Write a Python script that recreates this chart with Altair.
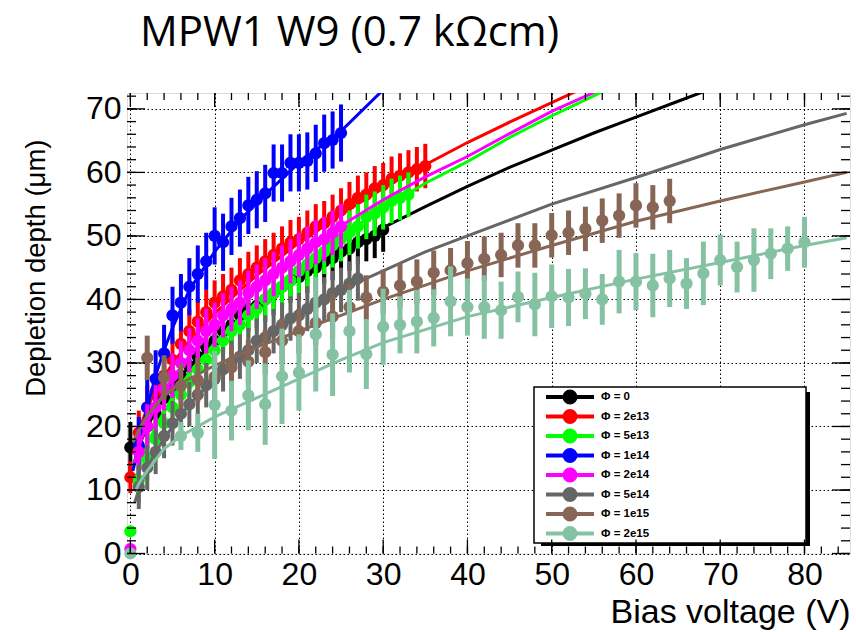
import altair as alt
import pandas as pd

series_names = ["Φ = 0", "Φ = 2e13", "Φ = 5e13", "Φ = 1e14", "Φ = 2e14", "Φ = 5e14", "Φ = 1e15", "Φ = 2e15"]
series_colors = ["#000000", "#ff0000", "#00ff00", "#0000ff", "#ff00ff", "#666666", "#876656", "#85c2a3"]

# ---- measured points: bias voltage (V), depletion depth (um), error (um)
v_phi0 = [0, 1, 2, 3, 4, 5, 6, 7, 8, 9, 10, 11, 12, 13, 14, 15, 16, 17, 18, 19, 20, 21, 22, 23, 24, 25, 26, 27, 28, 29, 30]
d_phi0 = [16.7, 16.5, 20, 22, 24.5, 26, 28, 29.5, 31, 32.5, 33.5, 35, 36, 37.5, 38.5, 39, 40, 41, 42, 43, 43.5,
          44.5, 45, 46, 46.5, 47.5, 48, 49, 49.5, 50, 51]
e_phi0 = [4.0] + [3.5] * 30

v_2e13 = [0, 1, 2, 3, 4, 5, 6, 7, 8, 9, 10, 11, 12, 13, 14, 15, 16, 17, 18, 19, 20, 21, 22, 23, 24, 25, 26, 27, 28,
          29, 30, 31, 32, 33, 34, 35]
d_2e13 = [12, 19, 23, 25.5, 28, 30.5, 33, 35, 36.5, 38, 39.5, 40.5, 41.5, 43, 44, 45, 46, 47, 48, 49,
          49.5, 50.5, 51.5, 52, 53, 54, 55, 56, 56.5, 57.5, 58, 59, 59.5, 60, 60.5, 61]
e_2e13 = [2.5] + [3.5] * 35

v_5e13 = [0, 1, 2, 3, 4, 5, 6, 7, 8, 9, 10, 11, 12, 13, 14, 15, 16, 17, 18, 19, 20, 21, 22, 23, 24, 25, 26, 27, 28,
          29, 30, 31, 32, 33]
d_5e13 = [3.5, 11.5, 15, 18, 20.5, 23, 25, 27, 29, 30.5, 32, 33.5, 35, 36, 37.5, 38.5, 40, 41, 42, 43,
          44.5, 45.5, 46.5, 47.5, 48.5, 49.5, 50.5, 51.5, 53, 53.5, 54.5, 55.5, 56, 56.5]
e_5e13 = [0] + [3.5] * 33

v_1e14 = [1, 2, 3, 4, 5, 6, 7, 8, 9, 10, 11, 12, 13, 14, 15, 16, 17, 18, 19, 20, 21, 22, 23, 24, 25]
d_1e14 = [17, 23, 27.5, 31.5, 37.5, 39.5, 42, 44, 46, 50, 49, 51.5, 52.8, 54.8, 55.7, 56.7, 59.9, 59.9, 61.5, 61.5,
          61.8, 63, 64.6, 65.1, 66.2]
e_1e14 = [4.5] * 25

v_2e14 = [0, 1, 2, 3, 4, 5, 6, 7, 8, 9, 10, 11, 12, 13, 14, 15, 16, 17, 18, 19, 20, 21, 22, 23, 24, 25]
d_2e14 = [0.7, 16, 20, 23, 26, 28, 30, 32, 33.5, 35, 36, 37.5, 38.5, 39.5, 41, 42, 43, 44, 45, 46, 47, 48,
          49, 49.5, 50.5, 51.5]
e_2e14 = [0] + [3.5] * 25

v_5e14 = [1, 2, 3, 4, 5, 6, 7, 8, 9, 10, 11, 12, 13, 14, 15, 16, 17, 18, 19, 20, 21, 22, 23, 24, 25, 26, 27]
d_5e14 = [10.5, 13.5, 16, 18.5, 20.5, 22, 23.5, 25, 26.5, 27.5, 29, 30, 31, 32, 33.5, 34, 35, 36, 37, 37.5, 38.5,
          39.5, 40, 41, 41.5, 42.5, 43.3]
e_5e14 = [3.5] * 27

v_1e15 = [2, 4, 6, 8, 10, 12, 14, 16, 18, 20, 22, 24, 26, 28, 30, 32, 34, 36, 38, 40, 42, 44, 46, 48, 50, 52, 54, 56,
          58, 60, 62, 64]
d_1e15 = [30.8, 27.7, 26.4, 27.3, 27.8, 29.3, 30.2, 31.7, 33.5, 35.0, 36.3, 37.3, 38.8, 40.3, 41.2, 42.2, 42.8, 44.2,
          44.6, 45.7, 46.4, 47.0, 48.5, 48.5, 50.1, 50.5, 51.1, 52.4, 53.2, 54.8, 54.5, 55.5]
e_1e15 = [3.5] * 32

v_2e15 = [0, 6, 8, 10, 12, 14, 16, 18, 20, 22, 24, 26, 28, 30, 32, 34, 36, 38, 40, 42, 44, 46, 48, 50, 52, 54, 56, 58,
          60, 62, 64, 66, 68, 70, 72, 74, 76, 78, 80]
d_2e15 = [0, 18.5, 19.0, 23.4, 22.5, 24.9, 23.5, 27.9, 28.5, 34.5, 31.3, 35.0, 31.4, 35.7, 36.0, 36.5, 37.1, 39.7,
          38.8, 38.8, 38.3, 40.4, 39.2, 40.5, 40.3, 40.9, 40.0, 42.8, 42.8, 42.2, 43.3, 42.5, 44.1, 46.2, 45.1, 46.2,
          47.2, 48.0, 49.0]
e_2e15 = [0, 2.2, 3.0, 8.5, 4.7, 5.5, 6.4, 7.5, 6.0, 9.0, 6.5, 6.5, 5.5, 6.0, 4.5, 5.0, 4.5, 5.5, 4.5, 5.0, 4.5, 4.0,
          5.0, 5.0, 4.5, 4.0, 4.0, 5.0, 4.5, 5.0, 4.5, 4.0, 5.0, 4.0, 4.0, 5.0, 4.0, 3.5, 4.0]

# ---- fitted curves (V, depth)
fv_phi0 = [0.5, 1, 2, 3, 5, 7, 10, 15, 20, 25, 30, 35, 40, 45, 50, 55, 60, 65, 68.6]
fd_phi0 = [14.5, 16.8, 20, 22.4, 26.3, 29.5, 33.4, 38.9, 43.5, 47.6, 51.3, 54.6, 57.8, 60.8, 63.5, 66.2, 68.7, 71.2, 73]
fv_2e13 = [0.3, 1, 2, 3, 5, 7, 10, 15, 20, 25, 30, 35, 40, 45, 50, 53.3]
fd_2e13 = [15.6, 19.4, 22.9, 25.6, 29.9, 33.4, 37.8, 43.8, 48.9, 53.4, 57.5, 61.2, 64.7, 67.9, 71.0, 73]
fv_5e13 = [0.5, 1, 2, 3, 5, 7, 10, 15, 20, 25, 30, 35, 40, 45, 50, 56.5]
fd_5e13 = [10.6, 13.3, 17.1, 20, 24.6, 28.4, 33.1, 39.6, 45.1, 49.9, 54.3, 58.3, 61.7, 65.5, 68.9, 73]
fv_1e14 = [0.3, 1, 2, 3, 4, 5, 7, 10, 13, 16, 20, 25, 30]
fd_1e14 = [13, 17, 23, 28, 32, 35.5, 41.5, 47.5, 52.5, 56.5, 61.5, 66.5, 73]
fv_2e14 = [0.5, 1, 2, 3, 5, 7, 10, 15, 20, 25, 30, 35, 40, 45, 50, 55.7]
fd_2e14 = [14.3, 16.8, 20.4, 23.2, 27.6, 31.1, 35.6, 41.8, 47, 51.6, 55.7, 59.3, 62.5, 66.1, 69.6, 73]
fv_5e14 = [0.5, 1, 2, 3, 5, 7, 10, 15, 20, 25, 30, 35, 40, 50, 60, 70, 80, 85]
fd_5e14 = [8, 10, 13.5, 16, 20, 23.5, 27.5, 33, 37.5, 41.5, 44.5, 47.5, 50, 55, 59.2, 63.6, 67.5, 69.3]
fv_1e15 = [0.3, 1, 2, 4, 6, 10, 15, 20, 25, 30, 40, 50, 60, 70, 80, 85]
fd_1e15 = [17.5, 19.5, 21.8, 24.8, 26.8, 29.6, 32.5, 35, 37.5, 40, 44.5, 48.5, 52.3, 55.5, 58.5, 60]
fv_2e15 = [0.6, 1, 2, 4, 6, 10, 15, 20, 25, 30, 40, 50, 60, 70, 80, 85]
fd_2e15 = [9.8, 11, 13, 16.5, 18.5, 21.5, 24.5, 27.5, 30.5, 33.2, 37.3, 40.3, 43.2, 45.8, 48.5, 49.7]

x_labels = [0, 10, 20, 30, 40, 50, 60, 70, 80]
y_labels = [0, 10, 20, 30, 40, 50, 60, 70]
x_minor = list(range(0, 85, 2))
y_minor = list(range(0, 73, 2))

points = [(v_phi0, d_phi0, e_phi0), (v_2e13, d_2e13, e_2e13), (v_5e13, d_5e13, e_5e13), (v_1e14, d_1e14, e_1e14),
          (v_2e14, d_2e14, e_2e14), (v_5e14, d_5e14, e_5e14), (v_1e15, d_1e15, e_1e15), (v_2e15, d_2e15, e_2e15)]
fits = [(fv_phi0, fd_phi0), (fv_2e13, fd_2e13), (fv_5e13, fd_5e13), (fv_1e14, fd_1e14), (fv_2e14, fd_2e14),
        (fv_5e14, fd_5e14), (fv_1e15, fd_1e15), (fv_2e15, fd_2e15)]

pt_rows, fit_rows = [], []
for k, (vs, ds, es) in enumerate(points):
    for v, d, e in zip(vs, ds, es):
        pt_rows.append({"k": k, "series": series_names[k], "V": v, "D": d, "lo": d - e, "hi": d + e})
for k, (vs, ds) in enumerate(fits):
    for v, d in zip(vs, ds):
        fit_rows.append({"k": k, "series": series_names[k], "V": v, "D": d})
pts_df = pd.DataFrame(pt_rows)
fit_df = pd.DataFrame(fit_rows)

W, H = 723, 460.5
FONT = "Liberation Sans"
xscale = alt.Scale(domain=[-0.4, 85.4], nice=False, zero=False)
yscale = alt.Scale(domain=[0, 72.5], nice=False, zero=False)

xax = alt.Axis(title="Bias voltage (V)", values=x_labels, format="d", grid=True, gridColor="black",
               gridDash=[1.5, 2.5], gridWidth=1, gridOpacity=1, domain=False, ticks=False,
               labelFont=FONT, labelFontSize=32, labelColor="black", labelPadding=6, labelFlush=False,
               labelOverlap=False, titleFont=FONT, titleFontSize=34, titleFontWeight="normal",
               titleColor="black", titleAlign="right", titleX=W, titleY=69, titleBaseline="alphabetic")
yax = alt.Axis(title="Depletion depth (μm)", values=y_labels, format="d", grid=True, gridColor="black",
               gridDash=[1.5, 2.5], gridWidth=1, gridOpacity=1, domain=False, ticks=False,
               labelFont=FONT, labelFontSize=32, labelColor="black", labelPadding=6, labelFlush=False,
               labelOverlap=False, titleFont=FONT, titleFontSize=27.5, titleFontWeight="normal",
               titleColor="black", titleAngle=270, titleAlign="right", titleX=-83, titleY=46,
               titleBaseline="alphabetic")

X = lambda f: alt.X(f, type="quantitative", scale=xscale, axis=xax)
Y = lambda f: alt.Y(f, type="quantitative", scale=yscale, axis=yax)

# legend symbol: a horizontal line with a filled dot (concentric stroked rings)
circ = lambda r: f"M{r},0A{r},{r} 0 1,1 {-r},0A{r},{r} 0 1,1 {r},0"
legend_path = "M-3,0L3,0" + circ(0.6875) + circ(0.3125) + circ(0.125)

legend = alt.Legend(title=None, orient="none", legendX=407, legendY=294, padding=2, symbolType=legend_path,
                    symbolSize=256, symbolStrokeWidth=4, symbolOffset=24, labelOffset=21, rowPadding=3.5,
                    clipHeight=16, labelFont=FONT, labelFontSize=11.5, labelFontWeight="bold",
                    labelColor="black")
color_scale = alt.Scale(domain=series_names, range=series_colors)

layers = []
base_pts = alt.Chart(pts_df)
base_fit = alt.Chart(fit_df)
for k in range(8):
    col = series_colors[k]
    big = k >= 6
    layers.append(base_pts.transform_filter(alt.datum.k == k).mark_rule(color=col, strokeWidth=5 if big else 4)
                  .encode(x=X("V"), y=Y("lo"), y2="hi"))
    layers.append(base_pts.transform_filter(alt.datum.k == k)
                  .mark_point(filled=True, size=150, opacity=1, color=col, strokeWidth=0)
                  .encode(x=X("V"), y=Y("D")))
    layers.append(base_fit.transform_filter(alt.datum.k == k).mark_line(strokeWidth=3, clip=True)
                  .encode(x=X("V"), y=Y("D"),
                          color=alt.Color("series:N", scale=color_scale,
                                          legend=legend if k == 0 else None)))

# legend frame with shadow
box_df = pd.DataFrame({"a": [0]})
layers.append(alt.Chart(box_df).mark_rect(color="black").encode(
    x=alt.value(414), x2=alt.value(683), y=alt.value(299), y2=alt.value(453)))
layers.append(alt.Chart(box_df).mark_rect(fill="white", stroke="black", strokeWidth=1.5).encode(
    x=alt.value(407), x2=alt.value(679), y=alt.value(294), y2=alt.value(450)))

# inward ticks on all four sides
xmin_df = pd.DataFrame({"t": x_minor})
xmaj_df = pd.DataFrame({"t": x_labels})
ymin_df = pd.DataFrame({"t": y_minor})
ymaj_df = pd.DataFrame({"t": y_labels})
tk = dict(color="black", strokeWidth=1.3)
for df, ln in [(xmin_df, 7), (xmaj_df, 14)]:
    layers.append(alt.Chart(df).mark_rule(**tk).encode(x=X("t"), y=alt.value(H), y2=alt.value(H - ln)))
    layers.append(alt.Chart(df).mark_rule(**tk).encode(x=X("t"), y=alt.value(0), y2=alt.value(ln)))
for df, ln in [(ymin_df, 9), (ymaj_df, 18)]:
    layers.append(alt.Chart(df).mark_rule(**tk).encode(y=Y("t"), x=alt.value(0), x2=alt.value(ln)))
    layers.append(alt.Chart(df).mark_rule(**tk).encode(y=Y("t"), x=alt.value(W), x2=alt.value(W - ln)))

chart = alt.layer(*layers).properties(
    width=W, height=H,
    title=alt.TitleParams("MPW1 W9 (0.7 kΩcm)", font="Open Sans", fontSize=42, fontWeight="normal",
                          color="black", anchor="start", frame="group", dx=13, baseline="alphabetic", offset=4),
    padding={"left": 127, "top": 93, "right": 6, "bottom": 78},
    autosize=alt.AutoSizeParams(type="none"),
).configure_view(stroke="black", strokeWidth=1.5).configure(background="white")

chart.save("out.html", embed_options={"renderer": "svg", "actions": False})
